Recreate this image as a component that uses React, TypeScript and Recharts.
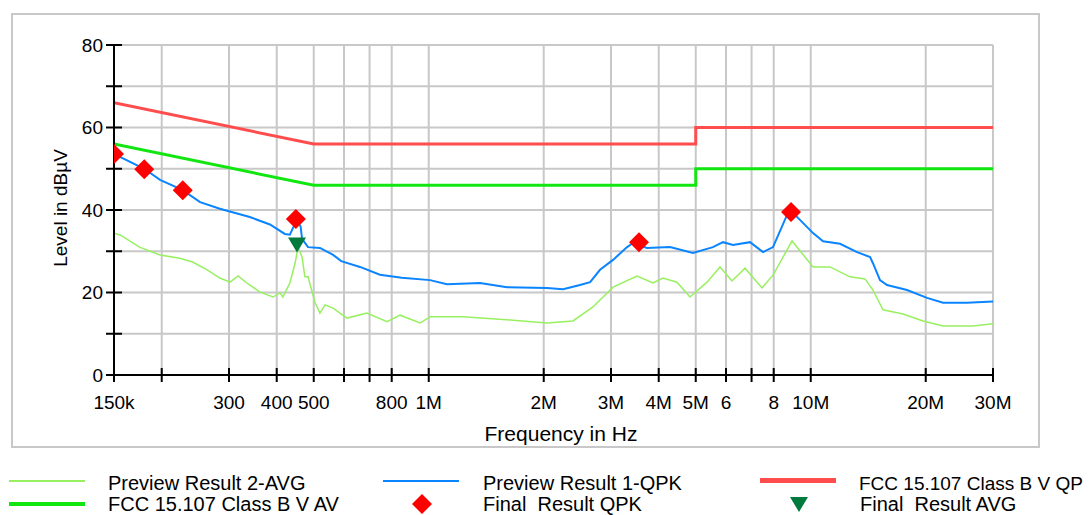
import React from 'react';
import { ComposedChart, Line, Scatter, XAxis, YAxis, CartesianGrid } from 'recharts';

// frequency in Hz, level in dBµV
const X_TICKS = [
  150000, 200000, 300000, 400000, 500000, 600000, 700000, 800000,
  1000000, 2000000, 3000000, 4000000, 5000000, 6000000, 7000000, 8000000,
  10000000, 20000000, 30000000,
];
const X_LABELS: Record<number, string> = {
  150000: '150k', 300000: '300', 400000: '400', 500000: '500', 800000: '800',
  1000000: '1M', 2000000: '2M', 3000000: '3M', 4000000: '4M', 5000000: '5M',
  6000000: '6', 8000000: '8', 10000000: '10M', 20000000: '20M', 30000000: '30M',
};
const Y_TICKS = [0, 10, 20, 30, 40, 50, 60, 70, 80];
const Y_LABELS = [0, 20, 40, 60, 80];

const PREVIEW_QPK: [number, number][] = [
  [150000, 54.0], [156000, 52.8], [180000, 50.0], [198000, 47.3], [227000, 44.8],
  [252000, 41.9], [284000, 40.3], [340000, 38.3], [384000, 36.5], [420000, 34.2],
  [433000, 34.0], [441000, 35.6], [452000, 37.5], [462000, 36.0], [466000, 33.0],
  [483000, 31.0], [519000, 30.8], [562000, 29.1], [590000, 27.6], [661000, 26.2],
  [745000, 24.3], [850000, 23.6], [1008000, 23.0], [1116000, 22.0], [1362000, 22.3],
  [1603000, 21.3], [2040000, 21.1], [2247000, 20.8], [2489000, 21.8], [2645000, 22.5],
  [2808000, 25.5], [3037000, 27.9], [3305000, 31.0], [3426000, 32.0], [3727000, 30.8],
  [4281000, 31.0], [4918000, 29.6], [5547000, 31.0], [5892000, 32.2], [6259000, 31.5],
  [6934000, 32.2], [7500000, 29.8], [7966000, 31.0], [8669000, 38.8], [8988000, 39.3],
  [10140000, 34.4], [10770000, 32.4], [11930000, 31.8], [13220000, 29.8], [14300000, 28.6],
  [14550000, 27.1], [15180000, 23.0], [15840000, 21.8], [17870000, 20.6], [20160000, 18.7],
  [22200000, 17.5], [25650000, 17.5], [30000000, 17.8],
];

const PREVIEW_AVG: [number, number][] = [
  [150000, 34.4], [156000, 33.9], [175000, 31.0], [198000, 29.1], [223000, 28.3],
  [241000, 27.4], [263000, 25.5], [284000, 23.5], [302000, 22.5], [317000, 24.0],
  [334000, 22.3], [362000, 20.1], [391000, 18.9], [408000, 19.9], [415000, 18.9],
  [433000, 22.3], [447000, 27.2], [455000, 31.0], [466000, 28.6], [474000, 23.8],
  [483000, 23.8], [504000, 17.5], [519000, 15.0], [535000, 17.0], [562000, 16.2],
  [611000, 13.8], [689000, 15.0], [778000, 12.9], [841000, 14.5], [949000, 12.6],
  [1008000, 14.1], [1229000, 14.1], [1662000, 13.3], [2040000, 12.6], [2386000, 13.1],
  [2691000, 16.5], [3037000, 21.3], [3509000, 24.0], [3864000, 22.3], [4104000, 23.5],
  [4466000, 22.5], [4830000, 18.9], [5352000, 22.5], [5787000, 26.2], [6222000, 22.8],
  [6728000, 25.9], [7453000, 21.1], [7966000, 24.2], [8934000, 32.5], [10140000, 26.2],
  [11230000, 26.2], [12670000, 23.8], [13870000, 23.3], [14550000, 20.6], [15460000, 15.8],
  [17440000, 14.8], [19680000, 13.1], [22200000, 11.9], [26600000, 11.9], [30000000, 12.4],
];

const LIMIT_QP: [number, number][] = [
  [150000, 66], [500000, 56], [5000000, 56], [5000000, 60], [30000000, 60],
];
const LIMIT_AV: [number, number][] = [
  [150000, 56], [500000, 46], [5000000, 46], [5000000, 50], [30000000, 50],
];

const FINAL_QPK: [number, number][] = [
  [150000, 53.6], [180000, 49.9], [227000, 44.8], [449000, 37.8], [3552000, 32.2], [8880000, 39.5],
];
const FINAL_AVG: [number, number][] = [[452000, 31.5]];

const toRows = (pts: [number, number][]) => pts.map(([f, v]) => ({ f, v }));

const FONT = '"Liberation Sans", Arial, sans-serif';

const XTick = (props: any) => {
  const { x, y, payload } = props;
  const label = X_LABELS[payload.value];
  return (
    <g>
      <line x1={x} x2={x} y1={y - 7} y2={y + 7} stroke="#000" strokeWidth={2} />
      {label && (
        <text x={x} y={y + 34} textAnchor="middle" fontSize={19} fontFamily={FONT} fill="#000">
          {label}
        </text>
      )}
    </g>
  );
};

const YTick = (props: any) => {
  const { x, y, payload } = props;
  return (
    <g>
      <line x1={x - 8} x2={x + 8} y1={y} y2={y} stroke="#000" strokeWidth={2} />
      {Y_LABELS.includes(payload.value) && (
        <text x={x - 11} y={y} dy="0.36em" textAnchor="end" fontSize={19} fontFamily={FONT} fill="#000">
          {payload.value}
        </text>
      )}
    </g>
  );
};

const Diamond = (p: any) => (
  <polygon
    points={`${p.cx},${p.cy - 10} ${p.cx + 10},${p.cy} ${p.cx},${p.cy + 10} ${p.cx - 10},${p.cy}`}
    fill="#ff0000"
  />
);

const TriangleDown = (p: any) => (
  <polygon
    points={`${p.cx - 9},${p.cy - 7.5} ${p.cx + 9},${p.cy - 7.5} ${p.cx},${p.cy + 7.5}`}
    fill="#007a3d"
  />
);

const LegendLine = ({ color, width }: { color: string; width: number }) => (
  <div style={{ width: 76, height: width, background: color }} />
);

const legendText: React.CSSProperties = {
  position: 'absolute',
  fontSize: 20,
  lineHeight: '20px',
  whiteSpace: 'pre',
  color: '#000',
};

export default function App() {
  return (
    <div
      style={{
        position: 'absolute',
        left: 0,
        top: 0,
        width: 1091,
        height: 515,
        background: '#fff',
        fontFamily: FONT,
        overflow: 'hidden',
      }}
    >
      {/* frame */}
      <div
        style={{
          position: 'absolute',
          left: 11,
          top: 13,
          width: 1029,
          height: 435,
          border: '2px solid #c8c8c8',
          boxSizing: 'border-box',
        }}
      />

      <div style={{ position: 'absolute', left: 0, top: 0 }}>
        <ComposedChart width={1091} height={450} margin={{ top: 45, right: 98, bottom: 0, left: 14 }}>
          <CartesianGrid stroke="#c8c8c8" strokeWidth={2} />
          <XAxis
            dataKey="f"
            type="number"
            scale="log"
            domain={[150000, 30000000]}
            allowDataOverflow
            ticks={X_TICKS}
            interval={0}
            height={75}
            tickSize={0}
            tickMargin={0}
            tick={<XTick />}
            axisLine={{ stroke: '#000', strokeWidth: 2 }}
          />
          <YAxis
            dataKey="v"
            type="number"
            domain={[0, 80]}
            ticks={Y_TICKS}
            interval={0}
            width={100}
            tickSize={0}
            tickMargin={0}
            tick={<YTick />}
            axisLine={{ stroke: '#000', strokeWidth: 2 }}
          />
          <Line
            data={toRows(PREVIEW_AVG)}
            dataKey="v"
            type="linear"
            stroke="#98f060"
            strokeWidth={1.5}
            dot={false}
            isAnimationActive={false}
          />
          <Line
            data={toRows(PREVIEW_QPK)}
            dataKey="v"
            type="linear"
            stroke="#0a84ff"
            strokeWidth={2}
            dot={false}
            isAnimationActive={false}
          />
          <Line
            data={toRows(LIMIT_QP)}
            dataKey="v"
            type="linear"
            stroke="#ff4d4d"
            strokeWidth={3}
            dot={false}
            isAnimationActive={false}
          />
          <Line
            data={toRows(LIMIT_AV)}
            dataKey="v"
            type="linear"
            stroke="#11e611"
            strokeWidth={3}
            dot={false}
            isAnimationActive={false}
          />
          <Scatter data={toRows(FINAL_QPK)} dataKey="v" shape={<Diamond />} isAnimationActive={false} />
          <Scatter data={toRows(FINAL_AVG)} dataKey="v" shape={<TriangleDown />} isAnimationActive={false} />
        </ComposedChart>
      </div>

      {/* axis titles */}
      <div
        style={{
          position: 'absolute',
          left: 61,
          top: 208,
          transform: 'translate(-50%, -50%) rotate(-90deg)',
          fontSize: 19,
          whiteSpace: 'nowrap',
        }}
      >
        Level in dBµV
      </div>
      <div
        style={{
          position: 'absolute',
          left: 561,
          top: 423,
          transform: 'translateX(-50%)',
          fontSize: 21,
          lineHeight: '21px',
          whiteSpace: 'nowrap',
        }}
      >
        Frequency in Hz
      </div>

      {/* legend */}
      <div style={{ position: 'absolute', left: 9, top: 480 }}>
        <LegendLine color="#98f060" width={2} />
      </div>
      <div style={{ ...legendText, left: 108, top: 473 }}>Preview Result 2-AVG</div>
      <div style={{ position: 'absolute', left: 383, top: 480 }}>
        <LegendLine color="#0a84ff" width={2} />
      </div>
      <div style={{ ...legendText, left: 483, top: 473 }}>Preview Result 1-QPK</div>
      <div style={{ position: 'absolute', left: 760, top: 478 }}>
        <LegendLine color="#ff4d4d" width={5} />
      </div>
      <div style={{ ...legendText, left: 859, top: 474, fontSize: 19, lineHeight: '19px' }}>
        FCC 15.107 Class B V QP
      </div>

      <div style={{ position: 'absolute', left: 9, top: 502 }}>
        <LegendLine color="#11e611" width={4} />
      </div>
      <div style={{ ...legendText, left: 108, top: 494 }}>FCC 15.107 Class B V AV</div>
      <svg style={{ position: 'absolute', left: 412, top: 494 }} width={20} height={20}>
        <polygon points="10,0 20,10 10,20 0,10" fill="#ff0000" />
      </svg>
      <div style={{ ...legendText, left: 483, top: 494 }}>Final  Result QPK</div>
      <svg style={{ position: 'absolute', left: 789, top: 497 }} width={20} height={16}>
        <polygon points="1,0 19,0 10,15" fill="#007a3d" />
      </svg>
      <div style={{ ...legendText, left: 860, top: 494 }}>Final  Result AVG</div>
    </div>
  );
}
